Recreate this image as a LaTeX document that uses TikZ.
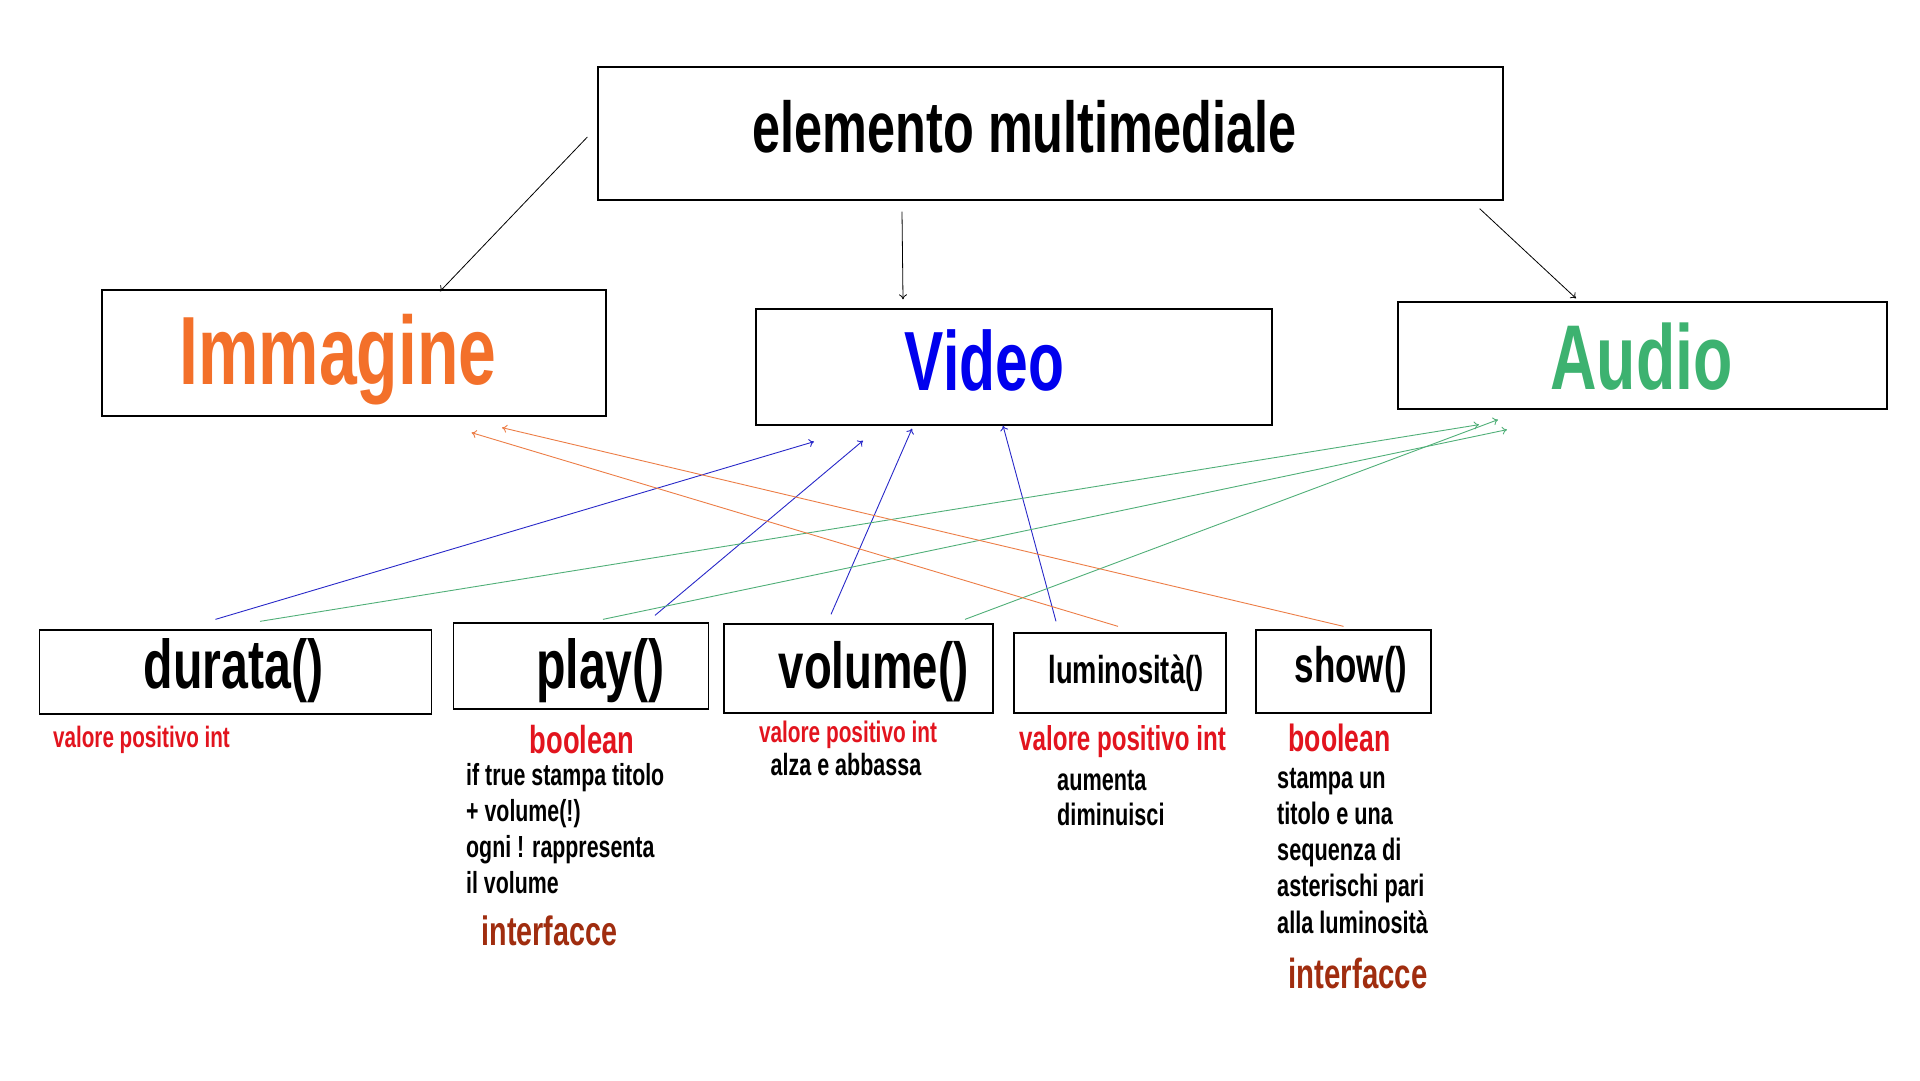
\documentclass[tikz,border=0pt]{standalone}
\usepackage{fontspec}
\usetikzlibrary{calc,arrows.meta}

\newfontfamily\condfont[FakeStretch=0.7]{Liberation Sans Bold}
\newcommand{\cfont}[1]{\condfont\fontsize{#1}{#1}\selectfont}
\newcommand{\cfontlead}[2]{\condfont\fontsize{#1}{#2}\selectfont}

\definecolor{imgorange}{RGB}{243,112,42}
\definecolor{vidblue}{RGB}{0,0,238}
\definecolor{audgreen}{RGB}{61,178,112}
\definecolor{lineblue}{RGB}{40,40,200}
\definecolor{linegreen}{RGB}{80,175,120}
\definecolor{lineorange}{RGB}{236,125,70}
\definecolor{typered}{RGB}{226,20,30}
\definecolor{ifcbrown}{RGB}{160,45,15}

\begin{document}
\begin{tikzpicture}[x=1pt,y=-1pt, >={To[length=5pt,width=8pt]},
  box/.style={draw, line width=1.3pt, inner sep=0pt},
  txt/.style={inner sep=0pt, anchor=base},
  note/.style={inner sep=0pt, anchor=base west, align=left},
  link/.style={->, line width=0.9pt}]

  \useasboundingbox (0,0) rectangle (1920,1080);

  % --- Top box ---
  \node[box, minimum width=905, minimum height=133] (elem) at (1050.5,133.5) {};
  \node[txt, font=\cfont{72}] (elemtxt) at (1024.5,152) {elemento multimediale};

  % --- Classes (middle row) ---
  \node[box, minimum width=504, minimum height=126] (imm) at (354,353) {};
  \node[txt, font=\cfont{97}, text=imgorange] (immtxt) at (338,384) {Immagine};

  \node[box, minimum width=516, minimum height=116] (video) at (1014,367) {};
  \node[txt, font=\cfont{84}, text=vidblue] (videotxt) at (984.5,390) {Video};

  \node[box, minimum width=489, minimum height=107] (audio) at (1642.5,355.5) {};
  \node[txt, font=\cfont{92}, text=audgreen] (audiotxt) at (1641.5,389) {Audio};

  % --- Methods (bottom row) ---
  \node[box, minimum width=392, minimum height=84] (durata) at (235.5,672) {};
  \node[txt, font=\cfont{69}] (duratatxt) at (233.7,688) {durata()};

  \node[box, minimum width=255, minimum height=86] (play) at (581.3,666) {};
  \node[txt, font=\cfont{69}] (playtxt) at (600.5,688) {play()};

  \node[box, minimum width=269, minimum height=89] (volume) at (858.5,668.5) {};
  \node[txt, font=\cfont{65}] (volumetxt) at (873.5,688) {volume()};

  \node[box, minimum width=212, minimum height=80] (lum) at (1120,673) {};
  \node[txt, font=\cfont{39}] (lumtxt) at (1126,683) {luminosità()};

  \node[box, minimum width=175, minimum height=83] (show) at (1343.5,671.5) {};
  \node[txt, font=\cfont{50}] (showtxt) at (1351,682) {show()};

  % --- Notes under durata() ---
  \node[txt, font=\cfont{29.5}, text=typered] (duratatype) at (141.5,747) {valore positivo int};

  % --- Notes under play() ---
  \node[txt, font=\cfont{39}, text=typered] (playtype) at (582,753) {boolean};
  \node[note, font={\cfontlead{30.5}{36}}] (playnote) at (466,893)
    {if true stampa titolo\\+ volume(!)\\ogni ! rappresenta\\il volume};
  \node[txt, font=\cfont{41}, text=ifcbrown] (playifc) at (549.5,945) {interfacce};

  % --- Notes under volume() ---
  \node[txt, font=\cfont{29.7}, text=typered] (volumetype) at (848,742) {valore positivo int};
  \node[txt, font=\cfont{30.7}] (volumenote) at (846,775) {alza e abbassa};

  % --- Notes under luminosità() ---
  \node[txt, font=\cfont{34.5}, text=typered] (lumtype) at (1122.5,750) {valore positivo int};
  \node[note, font={\cfontlead{31}{35}}] (lumnote) at (1057,825) {aumenta\\diminuisci};

  % --- Notes under show() ---
  \node[txt, font=\cfont{38}, text=typered] (showtype) at (1339.5,751) {boolean};
  \node[note, font={\cfontlead{31}{36.2}}] (shownote) at (1277,933)
    {stampa un\\titolo e una\\sequenza di\\asterischi pari\\alla luminosità};
  \node[txt, font=\cfont{42}, text=ifcbrown] (showifc) at (1358,988) {interfacce};

  % --- Inheritance arrows ---
  \draw[link, line width=0.8pt] ($(elem.west)+(-10,3.5)$) -- ($(imm.north)+(86,2)$);
  \draw[link, line width=0.8pt] ($(elem.south)+(-148.5,11)$) -- ($(video.north)+(-111,-9)$);
  \draw[link, line width=0.8pt] ($(elem.south east)+(-24,8)$) -- ($(audio.north)+(-66.5,-3)$);

  % --- Methods used by Video ---
  \draw[link, lineblue] ($(durata.north)+(-20,-10)$) -- ($(video.south)+(-200,16)$);
  \draw[link, lineblue] ($(play.north)+(73.7,-7)$) -- ($(video.south)+(-151,15)$);
  \draw[link, lineblue] ($(volume.north)+(-27.5,-9)$) -- ($(video.south)+(-102,3)$);
  \draw[link, lineblue] ($(lum.north)+(-64,-11)$) -- ($(video.south)+(-11,0)$);

  % --- Methods used by Audio ---
  \draw[link, linegreen] ($(durata.north)+(24.5,-8)$) -- ($(audio.south)+(-163.5,15)$);
  \draw[link, linegreen] ($(play.north)+(21.7,-3)$) -- ($(audio.south)+(-135.5,20)$);
  \draw[link, linegreen] ($(volume.north)+(106.5,-4)$) -- ($(audio.south)+(-144.5,10)$);

  % --- Methods used by Immagine ---
  \draw[link, lineorange] ($(lum.north)+(-2,-6)$) -- ($(imm.south)+(117.5,16)$);
  \draw[link, lineorange] ($(show.north)+(0,-3)$) -- ($(imm.south)+(148,11)$);

\end{tikzpicture}
\end{document}
